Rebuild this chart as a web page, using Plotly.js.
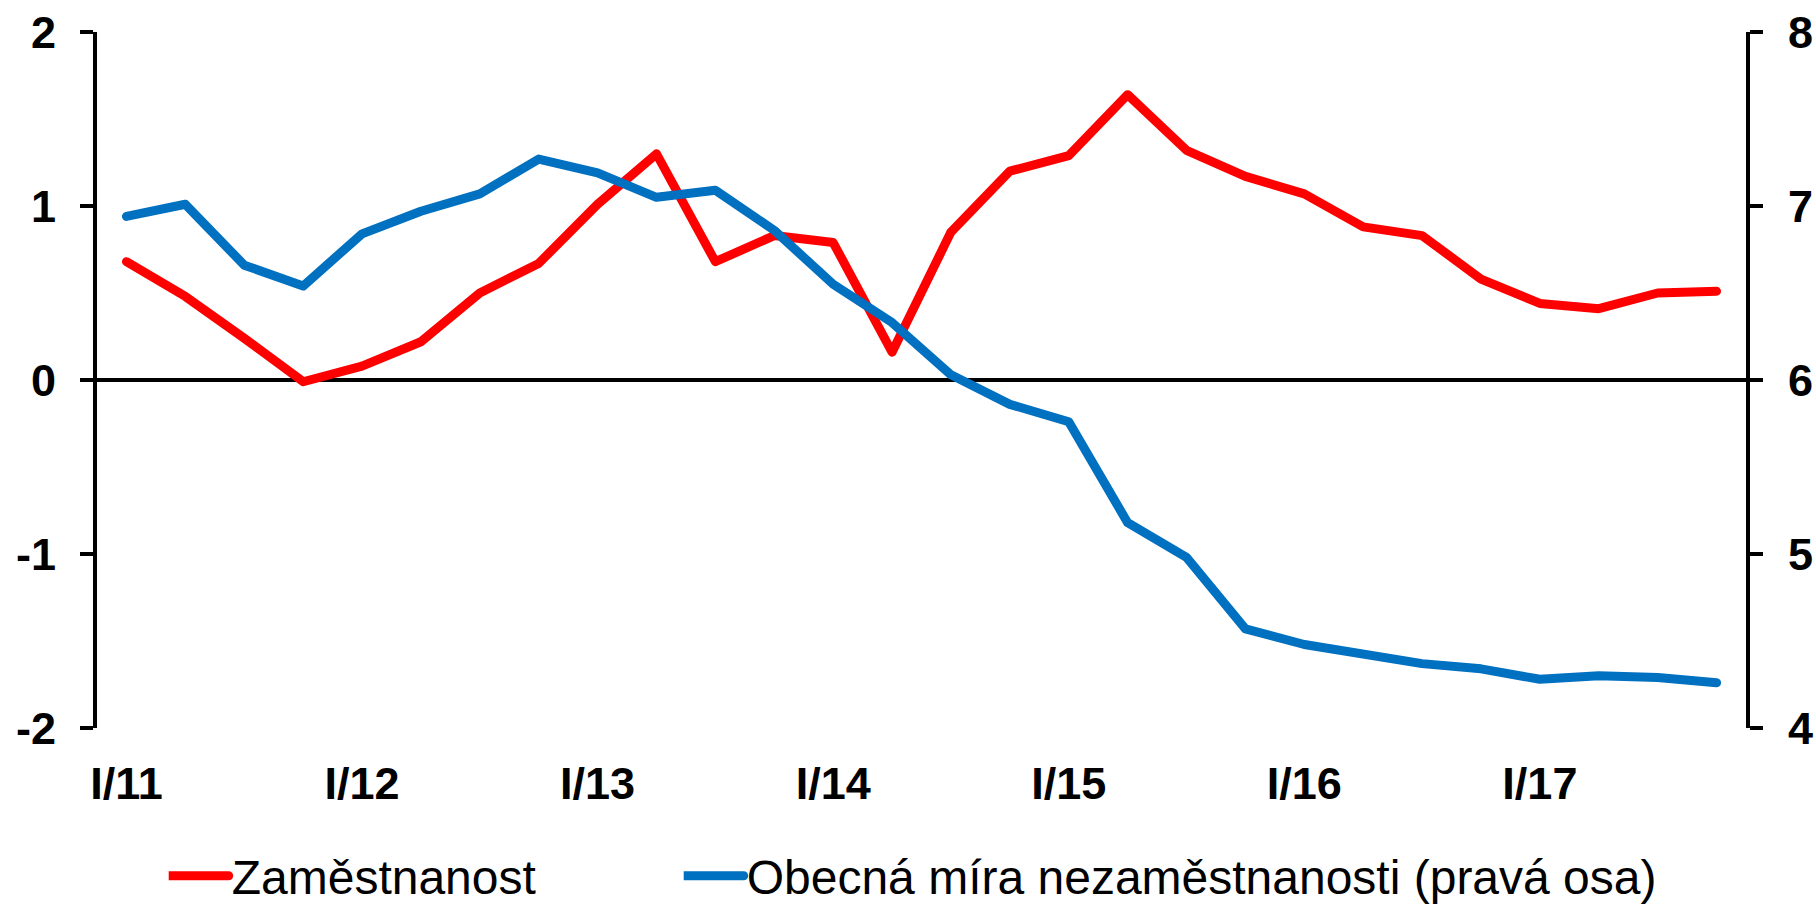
<!DOCTYPE html>
<html>
<head>
<meta charset="utf-8">
<script src="https://cdn.plot.ly/plotly-3.0.1.min.js"></script>
<style>
  html, body { margin: 0; padding: 0; background: #fff; }
  #chart { width: 1816px; height: 905px; }
  .scatterlayer .js-line { stroke-linejoin: round; stroke-linecap: round; }
  .legendlines path { stroke-linecap: round; }
</style>
</head>
<body>
<div id="chart"></div>
<script>
// Quarters I/11 .. IV/17
const quarters = [
  "I/11","II/11","III/11","IV/11",
  "I/12","II/12","III/12","IV/12",
  "I/13","II/13","III/13","IV/13",
  "I/14","II/14","III/14","IV/14",
  "I/15","II/15","III/15","IV/15",
  "I/16","II/16","III/16","IV/16",
  "I/17","II/17","III/17","IV/17"
];
const tickLabels = ["I/11","I/12","I/13","I/14","I/15","I/16","I/17"];

const leftTickVals = [-2, -1, 0, 1, 2];
const leftTickText = ["-2", "-1", "0", "1", "2"];
const rightTickVals = [4, 5, 6, 7, 8];
const rightTickText = ["4", "5", "6", "7", "8"];

// Zaměstnanost (left axis, %)
const employment = [
  0.68, 0.48, 0.24, -0.01, 0.08, 0.22, 0.50, 0.67,
  1.01, 1.30, 0.68, 0.83, 0.79, 0.16, 0.85, 1.20,
  1.29, 1.64, 1.32, 1.17, 1.07, 0.88, 0.83, 0.58,
  0.44, 0.41, 0.50, 0.51
];
// Obecná míra nezaměstnanosti (right axis, %)
const unemployment = [
  6.94, 7.01, 6.66, 6.54, 6.84, 6.97, 7.07, 7.27,
  7.19, 7.05, 7.09, 6.86, 6.55, 6.33, 6.03, 5.86,
  5.76, 5.18, 4.98, 4.57, 4.48, 4.42, 4.37, 4.34,
  4.28, 4.30, 4.29, 4.26
];

const FONT = "Liberation Sans, Arial, sans-serif";

const traces = [
  {
    x: quarters, y: employment, type: "scatter", mode: "lines",
    name: "Zaměstnanost",
    line: { color: "#FF0000", width: 9 },
    yaxis: "y", legend: "legend", hoverinfo: "x+y"
  },
  {
    x: quarters, y: unemployment, type: "scatter", mode: "lines",
    name: "Obecná míra nezaměstnanosti (pravá osa)",
    line: { color: "#0070C0", width: 9 },
    yaxis: "y2", legend: "legend2", hoverinfo: "x+y"
  }
];

const tickFont = { family: FONT, size: 45, color: "#000", weight: "bold" };
const legendFont = { family: FONT, size: 48, color: "#000" };

const layout = {
  width: 1816, height: 905,
  margin: { l: 97, r: 70, t: 32, b: 177, pad: 0 },
  paper_bgcolor: "#fff", plot_bgcolor: "#fff",
  showlegend: true,
  font: { family: FONT, color: "#000" },
  xaxis: {
    type: "category",
    range: [-0.5, 27.5],
    tickmode: "array",
    tickvals: tickLabels,
    ticktext: tickLabels,
    ticks: "",
    showline: false,
    showgrid: false,
    zeroline: false,
    tickfont: tickFont,
    ticklabelstandoff: 25,
    fixedrange: true
  },
  yaxis: {
    range: [-2, 2],
    tickmode: "array", tickvals: leftTickVals, ticktext: leftTickText,
    ticks: "outside", ticklen: 13, tickwidth: 4, tickcolor: "#000",
    showline: true, linewidth: 4, linecolor: "#000",
    showgrid: false,
    zeroline: true, zerolinewidth: 4, zerolinecolor: "#000",
    tickfont: tickFont,
    ticklabelstandoff: 15,
    fixedrange: true
  },
  yaxis2: {
    overlaying: "y", side: "right",
    range: [4, 8],
    tickmode: "array", tickvals: rightTickVals, ticktext: rightTickText,
    ticks: "outside", ticklen: 13, tickwidth: 4, tickcolor: "#000",
    showline: true, linewidth: 4, linecolor: "#000",
    showgrid: false, zeroline: false,
    tickfont: tickFont,
    ticklabelstandoff: 16,
    fixedrange: true
  },
  legend: {
    orientation: "h",
    xref: "container", yref: "container",
    x: 168.7 / 1816, xanchor: "left",
    y: 29 / 905, yanchor: "middle",
    itemwidth: 53,
    font: legendFont,
    bgcolor: "rgba(0,0,0,0)",
    borderwidth: 0
  },
  legend2: {
    orientation: "h",
    xref: "container", yref: "container",
    x: 683.7 / 1816, xanchor: "left",
    y: 29 / 905, yanchor: "middle",
    itemwidth: 53,
    font: legendFont,
    bgcolor: "rgba(0,0,0,0)",
    borderwidth: 0
  }
};

Plotly.newPlot("chart", traces, layout, { displayModeBar: false, staticPlot: true }).then(function () {
  document.querySelectorAll(".legendlines path").forEach(function (p) {
    p.setAttribute("d", "M0,0h60");
  });
});
</script>
</body>
</html>
